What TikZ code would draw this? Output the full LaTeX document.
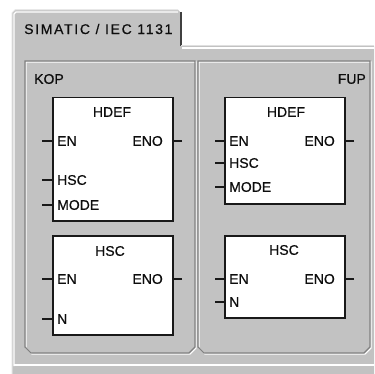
\documentclass[tikz,border=0pt]{standalone}
\usepackage{fontspec}
\setmainfont{Liberation Sans}[FakeBold=0.6]
\newfontfamily\tabfont[LetterSpace=12,FakeBold=0.6]{Liberation Sans}
\begin{document}
\begin{tikzpicture}[x=1pt,y=-1pt,
  panelgray/.style={fill=black!24},
  darkedge/.style={draw=black!50,line width=1.2pt},
  lightedge/.style={draw=white,line width=1.2pt},
  fbox/.style={draw=black!90,fill=white,line width=1.5pt},
  pinline/.style={draw=black!90,line width=1.5pt},
  lbl/.style={inner sep=0pt,text=black!95,font=\fontsize{14}{16}\selectfont},
]
% canvas
\path[fill=white] (0,0) rectangle (374,374);
\useasboundingbox (0,0) rectangle (374,374);
% tab page
\path[panelgray] (12,374) -- (12,13) -- (15,10) -- (178,10) -- (181,13) -- (181,46) -- (374,46) -- (374,374) -- cycle;
\draw[draw=black!12,line width=1pt] (12,374) -- (12,13) -- (15,10) -- (178,10);
\draw[lightedge] (14,366) -- (14,14) -- (16,12) -- (178,12);
\draw[draw=black!75,line width=1.2pt] (181,12) -- (181,46);
\draw[draw=black!12,line width=1pt] (181,46) -- (374,46);
\draw[lightedge] (182,48) -- (374,48);
\draw[lightedge] (14,365) -- (374,365);
\node[lbl,anchor=west,font=\fontsize{14}{16}\tabfont] (tabtxt) at (24,29) {SIMATIC / IEC 1131};
% inner panels
\draw[lightedge] (26,62) -- (196,62) -- (196,348) -- (190,354) -- (32,354) -- (26,348) -- cycle;
\draw[darkedge] (25,61) -- (195,61) -- (195,347) -- (189,353) -- (31,353) -- (25,347) -- cycle;
\draw[lightedge] (199,62) -- (371,62) -- (371,348) -- (365,354) -- (205,354) -- (199,348) -- cycle;
\draw[darkedge] (198,61) -- (370,61) -- (370,347) -- (364,353) -- (204,353) -- (198,347) -- cycle;
\node[lbl,anchor=west] (kop) at (34,79) {KOP};
\node[lbl,anchor=east] (fup) at (366,79) {FUP};
% KOP HDEF
\node[fbox,minimum width=120pt,minimum height=123pt,anchor=north west] (k1) at (52,97) {};
\node[lbl] (k1t) at (112,112) {HDEF};
\node[lbl,anchor=west] (k1en) at (57,141) {EN};
\node[lbl,anchor=east] (k1eno) at (163,141) {ENO};
\node[lbl,anchor=west] (k1hsc) at (57,180) {HSC};
\node[lbl,anchor=west] (k1mode) at (57,205) {MODE};
\coordinate (k1enp) at (42,141);
\coordinate (k1hscp) at (42,180);
\coordinate (k1modep) at (42,205);
\coordinate (k1enop) at (182,141);
\draw[pinline] (k1enp) -- (k1enp -| k1.west);
\draw[pinline] (k1hscp) -- (k1hscp -| k1.west);
\draw[pinline] (k1modep) -- (k1modep -| k1.west);
\draw[pinline] (k1enop) -- (k1enop -| k1.east);
% KOP HSC
\node[fbox,minimum width=120pt,minimum height=99pt,anchor=north west] (k2) at (52,235) {};
\node[lbl] (k2t) at (110,251) {HSC};
\node[lbl,anchor=west] (k2en) at (57,279) {EN};
\node[lbl,anchor=east] (k2eno) at (163,279) {ENO};
\node[lbl,anchor=west] (k2n) at (57,319) {N};
\coordinate (k2enp) at (42,279);
\coordinate (k2np) at (42,319);
\coordinate (k2enop) at (182,279);
\draw[pinline] (k2enp) -- (k2enp -| k2.west);
\draw[pinline] (k2np) -- (k2np -| k2.west);
\draw[pinline] (k2enop) -- (k2enop -| k2.east);
% FUP HDEF
\node[fbox,minimum width=120pt,minimum height=106pt,anchor=north west] (f1) at (224,97) {};
\node[lbl] (f1t) at (286,112) {HDEF};
\node[lbl,anchor=west] (f1en) at (229,141) {EN};
\node[lbl,anchor=east] (f1eno) at (335,141) {ENO};
\node[lbl,anchor=west] (f1hsc) at (229,163) {HSC};
\node[lbl,anchor=west] (f1mode) at (229,187) {MODE};
\coordinate (f1enp) at (215,141);
\coordinate (f1hscp) at (215,163);
\coordinate (f1modep) at (215,187);
\coordinate (f1enop) at (354,141);
\draw[pinline] (f1enp) -- (f1enp -| f1.west);
\draw[pinline] (f1hscp) -- (f1hscp -| f1.west);
\draw[pinline] (f1modep) -- (f1modep -| f1.west);
\draw[pinline] (f1enop) -- (f1enop -| f1.east);
% FUP HSC
\node[fbox,minimum width=120pt,minimum height=82pt,anchor=north west] (f2) at (224,235) {};
\node[lbl] (f2t) at (284,250) {HSC};
\node[lbl,anchor=west] (f2en) at (229,279) {EN};
\node[lbl,anchor=east] (f2eno) at (335,279) {ENO};
\node[lbl,anchor=west] (f2n) at (229,302) {N};
\coordinate (f2enp) at (215,279);
\coordinate (f2np) at (215,302);
\coordinate (f2enop) at (354,279);
\draw[pinline] (f2enp) -- (f2enp -| f2.west);
\draw[pinline] (f2np) -- (f2np -| f2.west);
\draw[pinline] (f2enop) -- (f2enop -| f2.east);
\end{tikzpicture}
\end{document}
